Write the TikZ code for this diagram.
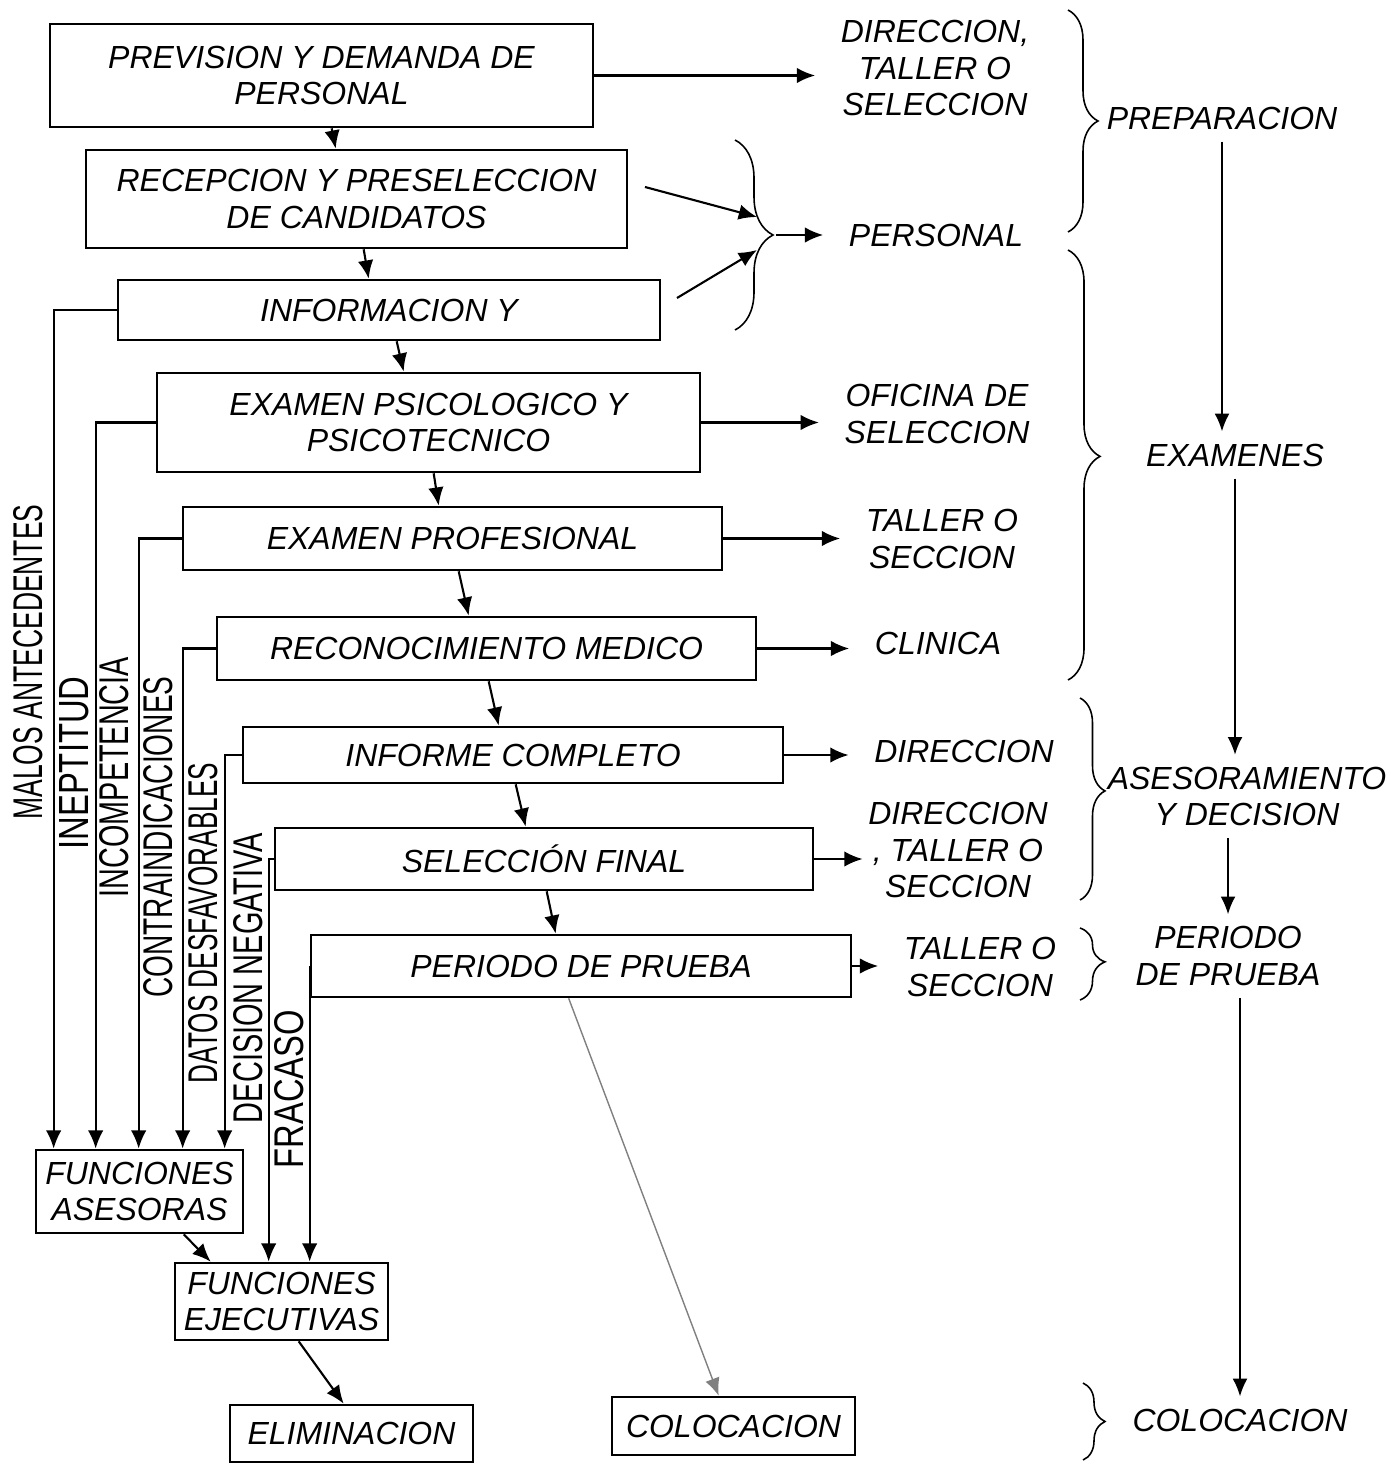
\documentclass[tikz,border=0pt]{standalone}
\usepackage{fontspec}
\setsansfont{Liberation Sans}
\usepackage{graphicx}
\usetikzlibrary{arrows.meta,calc,decorations.pathreplacing}

\newcommand{\vlab}[2]{\resizebox{#1}{0.29cm}{#2}}

\begin{document}
\begin{tikzpicture}

\tikzset{box/.style = {shape=rectangle,draw,line width=0.75pt,align=center,inner sep=0pt,font=\fontsize{9.1}{10.3}\selectfont\sffamily\itshape}}
\tikzset{txt/.style = {align=center,inner xsep=0.25cm,font=\fontsize{9.1}{10.3}\selectfont\sffamily\itshape}}
\tikzset{vtxt/.style = {rotate=90,inner sep=0pt,font=\sffamily}}
\tikzset{edge/.style = {-{Latex[length=5.2pt,width=4.4pt]},line width=0.6pt}}
\tikzset{flow/.style = {-{Latex[length=5pt,width=4.2pt]},line width=0.4pt}}
\tikzset{curly/.style = {decorate,decoration={brace,amplitude=#1},line width=0.45pt},curly/.default=0.3cm}

\useasboundingbox (0,0) rectangle (13.90,-14.64);

% steps
\node[box,minimum width=5.43cm,minimum height=1.03cm] (prev) at (3.215,-0.755) {PREVISION Y DEMANDA DE\\PERSONAL};
\node[box,minimum width=5.41cm,minimum height=0.98cm] (recep) at (3.565,-1.99) {RECEPCION Y PRESELECCION\\DE CANDIDATOS};
\node[box,minimum width=5.42cm,minimum height=0.60cm] (info) at (3.89,-3.10) {INFORMACION Y};
\node[box,minimum width=5.43cm,minimum height=0.99cm] (psico) at (4.285,-4.225) {EXAMEN PSICOLOGICO Y\\PSICOTECNICO};
\node[box,minimum width=5.39cm,minimum height=0.63cm] (prof) at (4.525,-5.385) {EXAMEN PROFESIONAL};
\node[box,minimum width=5.39cm,minimum height=0.63cm] (medico) at (4.865,-6.485) {RECONOCIMIENTO MEDICO};
\node[box,minimum width=5.40cm,minimum height=0.56cm] (informe) at (5.13,-7.55) {INFORME COMPLETO};
\node[box,minimum width=5.38cm,minimum height=0.62cm] (selfin) at (5.44,-8.59) {SELECCIÓN FINAL};
\node[box,minimum width=5.40cm,minimum height=0.62cm] (prueba) at (5.81,-9.66) {PERIODO DE PRUEBA};

% results
\node[box,minimum width=2.07cm,minimum height=0.83cm] (fase) at (1.395,-11.915) {FUNCIONES\\ASESORAS};
\node[box,minimum width=2.13cm,minimum height=0.77cm] (fejec) at (2.815,-13.015) {FUNCIONES\\EJECUTIVAS};
\node[box,minimum width=2.43cm,minimum height=0.57cm] (elim) at (3.515,-14.335) {ELIMINACION};
\node[box,minimum width=2.43cm,minimum height=0.58cm] (coloc) at (7.335,-14.26) {COLOCACION};

% who does it
\node[txt] (dir1) at (9.35,-0.68) {DIRECCION,\\TALLER O\\SELECCION};
\node[txt] (pers) at (9.36,-2.35) {PERSONAL};
\node[txt] (ofic) at (9.37,-4.14) {OFICINA DE\\SELECCION};
\node[txt] (taller1) at (9.42,-5.39) {TALLER O\\SECCION};
\node[txt] (clinica) at (9.38,-6.43) {CLINICA};
\node[txt] (dir2) at (9.64,-7.51) {DIRECCION};
\node[txt,inner xsep=0.05cm] (dir3) at (9.58,-8.50) {DIRECCION\\, TALLER O\\SECCION};
\node[txt] (taller2) at (9.80,-9.67) {TALLER O\\SECCION};

% stages
\node[txt] (prep) at (12.22,-1.18) {PREPARACION};
\node[txt] (exam) at (12.35,-4.55) {EXAMENES};
\node[txt] (asesor) at (12.47,-7.965) {ASESORAMIENTO\\Y DECISION};
\node[txt] (periodo) at (12.28,-9.56) {PERIODO\\DE PRUEBA};
\node[txt] (colocR) at (12.40,-14.20) {COLOCACION};

% reasons
\node[vtxt] (lmalos) at (0.28,-6.62) {\vlab{3.15cm}{MALOS ANTECEDENTES}};
\node[vtxt] (linept) at (0.74,-7.63) {\vlab{1.73cm}{INEPTITUD}};
\node[vtxt] (lincomp) at (1.14,-7.77) {\vlab{2.40cm}{INCOMPETENCIA}};
\node[vtxt] (lcontra) at (1.58,-8.37) {\vlab{3.21cm}{CONTRAINDICACIONES}};
\node[vtxt] (ldatos) at (2.03,-9.23) {\vlab{3.20cm}{DATOS DESFAVORABLES}};
\node[vtxt] (ldecis) at (2.48,-9.78) {\vlab{2.90cm}{DECISION NEGATIVA}};
\node[vtxt] (lfrac) at (2.89,-10.89) {\vlab{1.58cm}{FRACASO}};

% braces
\draw[curly=0.38cm] (7.35,-1.40) -- (7.35,-3.30);
\draw[curly=0.30cm] (10.68,-0.10) -- (10.68,-2.32);
\draw[curly=0.32cm,decoration={aspect=0.48}] (10.68,-2.50) -- (10.68,-6.80);
\draw[curly=0.25cm,decoration={aspect=0.46}] (10.80,-6.98) -- (10.80,-9.00);
\draw[curly=0.25cm,decoration={aspect=0.47}] (10.80,-9.28) -- (10.80,-10.00);
\draw[curly=0.22cm] (10.83,-13.83) -- (10.83,-14.60);

\coordinate (r1) at (6.45,-1.87);
\coordinate (r2) at (6.77,-2.98);
\coordinate (b1) at (7.57,-2.17);
\coordinate (b2) at (7.57,-2.50);
\coordinate (btip) at (7.76,-2.35);

%edges
\draw[edge] ($(prev.south west)+(2.83,0)$) -- ($(recep.north west)+(2.51,0)$);
\draw[edge] ($(recep.south west)+(2.79,0)$) -- ($(info.north west)+(2.52,0)$);
\draw[edge] ($(info.south west)+(2.80,0)$) -- ($(psico.north west)+(2.48,0)$);
\draw[edge] ($(psico.south west)+(2.78,0)$) -- ($(prof.north west)+(2.57,0)$);
\draw[edge] ($(prof.south west)+(2.77,0)$) -- ($(medico.north west)+(2.53,0)$);
\draw[edge] ($(medico.south west)+(2.73,0)$) -- ($(informe.north west)+(2.57,0)$);
\draw[edge] ($(informe.south west)+(2.74,0)$) -- ($(selfin.north west)+(2.52,0)$);
\draw[edge] ($(selfin.south west)+(2.73,0)$) -- ($(prueba.north west)+(2.46,0)$);

\draw[edge] (prev.east) -- (prev.east -| dir1.west);
\draw[edge] (r1) -- (b1);
\draw[edge] (r2) -- (b2);
\draw[edge] (btip) -- (pers.west);
\draw[edge] (psico.east) -- (psico.east -| ofic.west);
\draw[edge] (prof.east) -- (prof.east -| taller1.west);
\draw[edge] (medico.east) -- (medico.east -| clinica.west);
\draw[edge] (informe.east) -- (informe.east -| dir2.west);
\draw[edge] (selfin.east) -- (selfin.east -| dir3.west);
\draw[edge] (prueba.east) -- (prueba.east -| taller2.west);

\draw[edge] (info.west) -| ($(fase.north west)+(0.19,0)$);
\draw[edge] (psico.west) -| ($(fase.north west)+(0.61,0)$);
\draw[edge] (prof.west) -| ($(fase.north west)+(1.04,0)$);
\draw[edge] (medico.west) -| ($(fase.north west)+(1.48,0)$);
\draw[edge] (informe.west) -| ($(fase.north west)+(1.90,0)$);
\draw[edge] (selfin.west) -| ($(fejec.north west)+(0.95,0)$);
\draw[edge] (prueba.west) -| ($(fejec.north west)+(1.36,0)$);

\draw[edge] ($(fase.south west)+(1.49,0)$) -- ($(fejec.north west)+(0.37,0)$);
\draw[edge] ($(fejec.south west)+(1.25,0)$) -- ($(elim.north west)+(1.15,0)$);
\draw[flow,gray] ($(prueba.south west)+(2.59,0)$) -- ($(coloc.north west)+(1.08,0)$);

\draw[flow] (prep.south) -- (prep.south |- exam.north);
\draw[flow] (exam.south) -- (exam.south |- asesor.north);
\draw[flow] (asesor.south -| periodo.north) -- (periodo.north);
\draw[flow] (periodo.south -| colocR.north) -- (colocR.north);
\end{tikzpicture}
\end{document}
